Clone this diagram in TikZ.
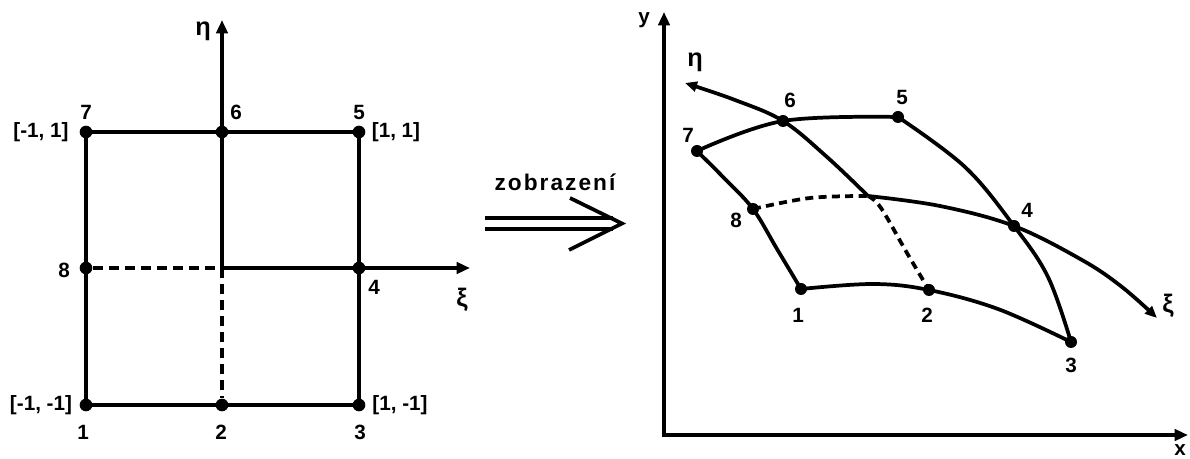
\documentclass[tikz,border=0pt]{standalone}
\usepackage{fontspec}
\setmainfont{Liberation Sans}
\newfontfamily\zfont[LetterSpace=9]{Liberation Sans}
\usetikzlibrary{arrows.meta}
\begin{document}
\begin{tikzpicture}[x=0.75pt,y=-0.75pt,
  dot/.style={circle,fill=black,inner sep=0pt,minimum size=9.5pt},
  sdot/.style={circle,fill=black,inner sep=0pt,minimum size=9pt},
  lbl/.style={font=\fontsize{15.5}{18}\selectfont\bfseries,inner sep=0pt},
  glbl/.style={font=\fontsize{19}{21}\selectfont\bfseries,inner sep=0pt},
  edge/.style={line width=3.2pt},
  cedge/.style={line width=2.8pt},
  dsh/.style={dash pattern=on 7.5pt off 4.5pt},
  rdsh/.style={dash pattern=on 6pt off 4pt},
  axarrow/.style={-{Triangle[length=10pt,width=8.5pt]}},
  carrow/.style={-{Triangle[length=9pt,width=7.5pt]}}]
\useasboundingbox (0,0) rectangle (1190,459);
% ---------------- left: reference element ----------------
\node[dot] (n1) at (86,405) {};
\node[dot] (n2) at (222,405) {};
\node[dot] (n3) at (359,405) {};
\node[dot] (n4) at (359,268) {};
\node[dot] (n5) at (359,132) {};
\node[dot] (n6) at (222,132) {};
\node[dot] (n7) at (86,132) {};
\node[dot] (n8) at (86,268) {};
\coordinate (c) at (222,268);
\coordinate (etatip) at (222,20);
\coordinate (xitip) at (470,268);
\draw[edge,line join=miter] (n1.center) -- (n2.center) -- (n3.center) -- (n4.center) -- (n5.center) -- (n6.center) -- (n7.center) -- (n8.center) -- cycle;
\draw[edge,axarrow] (c) -- (etatip);
\draw[edge,axarrow] (c) -- (xitip);
\draw[edge,dsh] (n8) -- (c);
\draw[edge,dsh] (c) -- (n2);
\node[lbl] (l7) at (86,112) {7};
\node[lbl] (l6) at (236,112) {6};
\node[lbl] (l5) at (359,112) {5};
\node[lbl] (l8) at (64,270) {8};
\node[lbl] (l4) at (374,287) {4};
\node[lbl] (l1) at (83,432) {1};
\node[lbl] (l2) at (221,432) {2};
\node[lbl] (l3) at (360,432) {3};
\node[lbl] (c7) at (41,132) {[-1, 1]};
\node[lbl] (c5) at (396,132) {[1, 1]};
\node[lbl] (c1) at (41,405) {[-1, -1]};
\node[lbl] (c3) at (400,405) {[1, -1]};
\node[glbl] (leta) at (203,31) {η};
\node[glbl] (lxi) at (462,300) {ξ};
% ---------------- mapping arrow ----------------
\coordinate (a1s) at (485,218);
\coordinate (a1e) at (613,218);
\coordinate (a2s) at (485,229);
\coordinate (a2e) at (613,229);
\coordinate (ahu) at (570,198);
\coordinate (aht) at (622,223.5);
\coordinate (ahl) at (569,250);
\draw[line width=2.6pt] (a1s) -- (a1e);
\draw[line width=2.6pt] (a2s) -- (a2e);
\draw[line width=2.8pt,line join=miter] (ahu) -- (aht) -- (ahl);
\node[font=\zfont\fontsize{17}{19}\selectfont\bfseries,inner sep=0pt,anchor=base] (zob) at (555,191) {zobrazení};
% ---------------- right: mapped element ----------------
\coordinate (O) at (664,435);
\coordinate (ytip) at (664,12);
\coordinate (xtip) at (1188,435);
\draw[edge,{Triangle[length=10pt,width=8.5pt]}-{Triangle[length=10pt,width=8.5pt]},line join=miter] (ytip) -- (O) -- (xtip);
\node[sdot] (m1) at (801,289) {};
\node[sdot] (m2) at (929,290) {};
\node[sdot] (m3) at (1071,342) {};
\node[sdot] (m4) at (1014,226) {};
\node[sdot] (m5) at (898,117) {};
\node[sdot] (m6) at (783,121) {};
\node[sdot] (m7) at (697,151) {};
\node[sdot] (m8) at (753,209) {};
\coordinate (C) at (868,196);
\coordinate (etat) at (685,83);
\coordinate (xit) at (1157,318);
% element edges
\draw[cedge] plot[smooth,tension=0.6] coordinates {(m7) (m6) (m5)};
\draw[cedge] plot[smooth,tension=0.6] coordinates {(m5) (965,167) (m4) (1048,277) (m3)};
\draw[cedge] plot[smooth,tension=0.6] coordinates {(m3) (998,309) (m2) (873,284) (m1)};
\draw[cedge] plot[smooth,tension=0.6] coordinates {(m1) (777,249) (m8) (725,179) (m7)};
% curvilinear axes
\draw[cedge,carrow] plot[smooth,tension=0.6] coordinates {(C) (827,157) (m6) (735,100) (etat)};
\draw[cedge,rdsh] plot[smooth,tension=0.6] coordinates {(C) (881,208) (907,253) (m2)};
\draw[cedge,rdsh] plot[smooth,tension=0.6] coordinates {(m8) (810,198) (C)};
\draw[cedge,carrow] plot[smooth,tension=0.6] coordinates {(C) (940,206) (m4) (1082,260) (1122,287) (xit)};
% labels
\node[lbl] (r7) at (688,135) {7};
\node[lbl] (r6) at (790,100) {6};
\node[lbl] (r5) at (902,97) {5};
\node[lbl] (r8) at (736,220) {8};
\node[lbl] (r4) at (1027,210) {4};
\node[lbl] (r1) at (798,315) {1};
\node[lbl] (r2) at (927,315) {2};
\node[lbl] (r3) at (1071,365) {3};
\node[glbl] (reta) at (695,62) {η};
\node[glbl] (rxi) at (1168,306) {ξ};
\node[lbl] (ry) at (644,20) {y};
\node[lbl] (rx) at (1180,450) {x};
\end{tikzpicture}
\end{document}
